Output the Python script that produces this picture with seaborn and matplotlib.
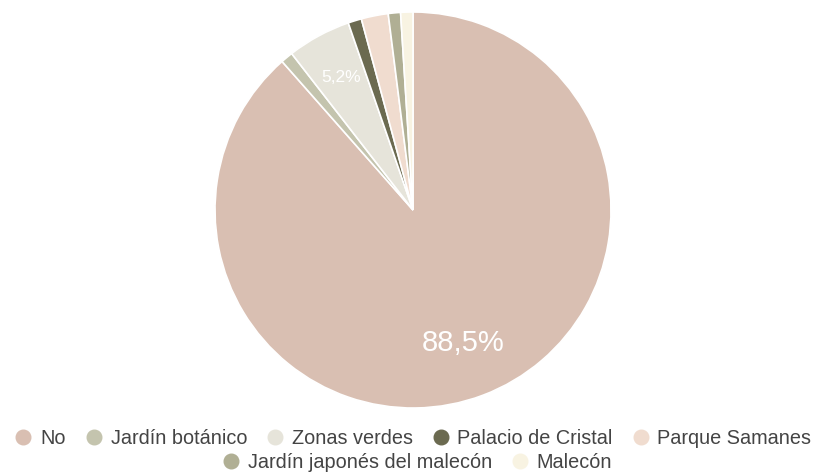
import matplotlib
matplotlib.use("Agg")
import matplotlib.pyplot as plt
from matplotlib.lines import Line2D
import seaborn as sns

categories = ["No", "Jardín botánico", "Zonas verdes", "Palacio de Cristal",
              "Parque Samanes", "Jardín japonés del malecón", "Malecón"]
values = [88.5, 1.0, 5.2, 1.1, 2.2, 1.0, 1.0]
colors = ["#d9bfb2", "#c4c4ae", "#e6e4da", "#6b6a50", "#f0dccf", "#b0af94", "#f8f3e2"]

sns.set_theme(style="white")
plt.rcParams["font.family"] = ["Liberation Sans", "DejaVu Sans"]

fig = plt.figure(figsize=(8.18, 4.73), dpi=100)
cx, cy, r = 413, 473 - 210, 198
ax = fig.add_axes([(cx - r) / 818, (cy - r) / 473, 2 * r / 818, 2 * r / 473])

def fmt(p):
    return (f"{p:.1f}%".replace(".", ",")) if p > 5 else ""

wedges, texts, autotexts = ax.pie(
    values, colors=colors, startangle=90, counterclock=False, radius=1,
    autopct=fmt, pctdistance=0.72,
    wedgeprops=dict(edgecolor="white", linewidth=1.2),
)
for t, v in zip(autotexts, values):
    t.set_color("white")
    if v > 50:
        t.set_fontsize(21)
    else:
        t.set_fontsize(12.5)
        x, y = t.get_position()
        t.set_position((x * 0.76 / 0.72, y * 0.76 / 0.72))
ax.set_xlim(-1, 1)
ax.set_ylim(-1, 1)
ax.set_aspect("equal")
ax.axis("off")

def handles(idx):
    return [Line2D([], [], marker="o", linestyle="none", markersize=10.5,
                   markerfacecolor=colors[i], markeredgecolor=colors[i]) for i in idx]

common = dict(frameon=False, fontsize=14.3, handlelength=0.7, handletextpad=0.5,
              columnspacing=1.05, labelcolor="#444444", borderaxespad=0, borderpad=0)
leg1 = fig.legend(handles(range(5)), categories[:5], ncol=5, loc="center",
                  bbox_to_anchor=(414 / 818, 1 - 438 / 473), **common)
leg2 = fig.legend(handles([5, 6]), categories[5:], ncol=2, loc="center",
                  bbox_to_anchor=(418 / 818, 1 - 462 / 473), **common)

fig.savefig("out.png", dpi=100, facecolor="white")
